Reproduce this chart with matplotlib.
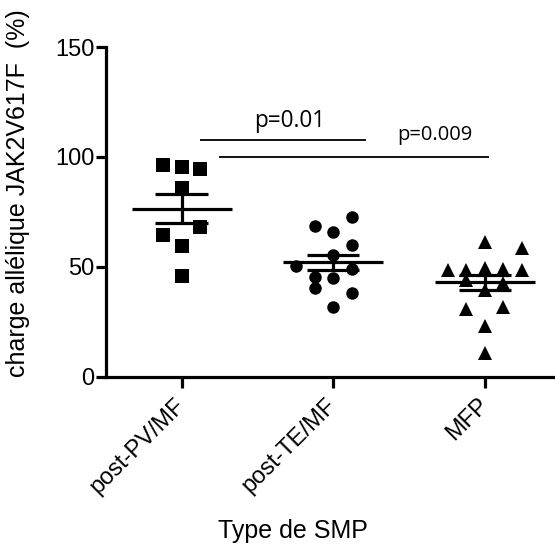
import numpy as np
import matplotlib
matplotlib.use("Agg")
import matplotlib.pyplot as plt

plt.rcParams['font.family'] = ['Liberation Sans', 'DejaVu Sans']

groups = ['post-PV/MF', 'post-TE/MF', 'MFP']

# allele burden values (%)
pv_mf = [96.4, 95.6, 94.5, 85.8, 68.0, 64.5, 59.5, 45.9]
te_mf = [72.9, 68.8, 65.8, 60.0, 55.5, 50.6, 49.0, 45.6, 44.9, 40.3, 38.0, 32.0]
mfp = [61.5, 58.5, 48.6, 48.6, 49.4, 49.0, 48.6, 44.1, 42.6, 39.5, 30.8, 31.7, 23.2, 11.0]

# mean and SEM as drawn
means = [76.5, 52.05, 43.0]
sems = [6.7, 3.45, 3.45]

# horizontal spreading of the points (columns, in units of marker step)
pv_cols = [-1, 0, 1, 0, 1, -1, 0, 0]
te_cols = [1, -1, 0, 1, 0, -2, 1, -1, 0, -1, 1, 0]
mfp_cols = [0, 2, -2, -1, 0, 1, 2, -1, 1, 0, -1, 1, 0, 0]

step = 0.121

fig = plt.figure(figsize=(5.55, 5.47), dpi=100)
ax = fig.add_axes([0.1905, 0.311, 0.806, 0.603])

data = [pv_mf, te_mf, mfp]
cols = [pv_cols, te_cols, mfp_cols]
markers = ['s', 'o', '^']
msizes = [9.8, 9, 9.8]

for i, (vals, c, m, ms) in enumerate(zip(data, cols, markers, msizes)):
    x = i + step * np.array(c)
    ax.plot(x, vals, linestyle='none', marker=m, markersize=ms,
            color='black', markeredgewidth=0, zorder=3)
    ax.hlines(means[i], i - 0.33, i + 0.33, color='black', lw=2.3, zorder=4)
    ax.hlines([means[i] - sems[i], means[i] + sems[i]], i - 0.173, i + 0.173,
              color='black', lw=2.3, zorder=4)
    ax.vlines(i, means[i] - sems[i], means[i] + sems[i], color='black', lw=2.3, zorder=4)

# significance lines
ax.hlines(107.7, 0.119, 1.218, color='black', lw=1.3)
ax.hlines(99.8, 0.25, 2.03, color='black', lw=1.3)
ax.text(0.71, 113.5, 'p=0.01', family='Open Sans', fontsize=16.3, ha='center', va='baseline')
ax.text(1.67, 107.5, 'p=0.009', family='Open Sans', fontsize=14.5, ha='center', va='baseline')

ax.set_xlim(-0.5, 2.45)
ax.set_ylim(0, 150)
ax.set_yticks([0, 50, 100, 150])
ax.set_xticks(range(3))
ax.set_xticklabels(groups, rotation=45, ha='right', va='center', rotation_mode='anchor')

for s in ['top', 'right']:
    ax.spines[s].set_visible(False)
for s in ['left', 'bottom']:
    ax.spines[s].set_linewidth(2.3)

ax.tick_params(axis='y', length=7, width=2.3, labelsize=17, pad=1)
ax.tick_params(axis='x', length=8, width=2.3, labelsize=17, pad=10)

ax.set_ylabel('charge allélique JAK2V617F  (%)', fontsize=18)
ax.yaxis.set_label_coords(-0.17, 0.557)
ax.set_xlabel('Type de SMP', fontsize=18)
ax.xaxis.set_label_coords(0.418, -0.43)

fig.savefig('out.png', dpi=100)
